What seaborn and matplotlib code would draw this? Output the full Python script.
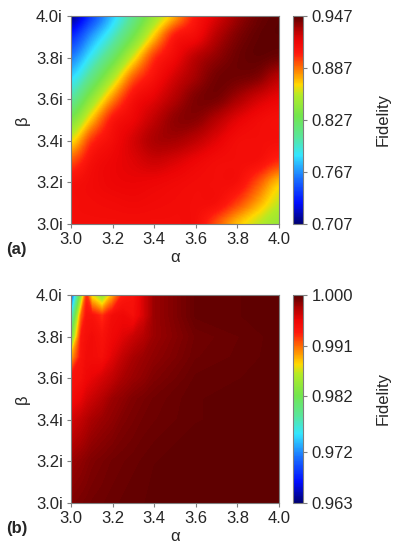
import numpy as np
import matplotlib
matplotlib.use("Agg")
import matplotlib.pyplot as plt
from matplotlib.colors import LinearSegmentedColormap
import seaborn as sns

# panel (a): fidelity read on a 0.1 grid, rows = beta 3.0 -> 4.0, cols = alpha 3.0 -> 4.0
alpha_a = [3.0, 3.1, 3.2, 3.3, 3.4, 3.5, 3.6, 3.7, 3.8, 3.9, 4.0]
beta_a = [3.0, 3.1, 3.2, 3.3, 3.4, 3.5, 3.6, 3.7, 3.8, 3.9, 4.0]
fid_a = [
    [0.912, 0.912, 0.912, 0.912, 0.912, 0.912, 0.911, 0.893, 0.873, 0.858, 0.846],
    [0.912, 0.913, 0.914, 0.915, 0.914, 0.913, 0.912, 0.910, 0.896, 0.877, 0.858],
    [0.910, 0.914, 0.917, 0.918, 0.917, 0.915, 0.913, 0.912, 0.910, 0.893, 0.872],
    [0.893, 0.911, 0.917, 0.921, 0.925, 0.922, 0.917, 0.913, 0.912, 0.910, 0.900],
    [0.865, 0.899, 0.913, 0.923, 0.932, 0.933, 0.928, 0.920, 0.913, 0.912, 0.911],
    [0.835, 0.873, 0.906, 0.917, 0.928, 0.937, 0.938, 0.930, 0.920, 0.914, 0.911],
    [0.807, 0.844, 0.882, 0.910, 0.920, 0.931, 0.940, 0.941, 0.933, 0.924, 0.918],
    [0.784, 0.815, 0.853, 0.891, 0.910, 0.924, 0.934, 0.942, 0.942, 0.939, 0.929],
    [0.762, 0.791, 0.823, 0.862, 0.898, 0.915, 0.929, 0.937, 0.943, 0.945, 0.943],
    [0.738, 0.769, 0.798, 0.832, 0.871, 0.905, 0.914, 0.930, 0.940, 0.945, 0.946],
    [0.712, 0.745, 0.779, 0.812, 0.846, 0.876, 0.906, 0.922, 0.935, 0.943, 0.946],
]
ticks_a = [0.707, 0.767, 0.827, 0.887, 0.947]

# panel (b): finer near the top-left corner where the structure is
alpha_b = [3.0, 3.05, 3.075, 3.1, 3.15, 3.2, 3.25, 3.3, 3.35, 3.4, 3.6, 4.0]
beta_b = [3.0, 3.2, 3.4, 3.5, 3.6, 3.7, 3.8, 3.9, 4.0]
fid_b = [
    [0.9989, 0.9991, 0.9992, 0.9993, 0.9994, 0.9995, 0.9996, 0.9997, 0.9997, 0.9998, 0.9998, 0.9998],
    [0.9982, 0.9985, 0.9987, 0.9989, 0.9991, 0.9993, 0.9994, 0.9995, 0.9996, 0.9997, 0.9998, 0.9998],
    [0.9963, 0.9970, 0.9974, 0.9978, 0.9982, 0.9985, 0.9989, 0.9991, 0.9993, 0.9994, 0.9997, 0.9998],
    [0.9948, 0.9956, 0.9963, 0.9967, 0.9974, 0.9982, 0.9985, 0.9989, 0.9991, 0.9993, 0.9997, 0.9998],
    [0.9941, 0.9945, 0.9952, 0.9956, 0.9963, 0.9970, 0.9978, 0.9982, 0.9985, 0.9989, 0.9996, 0.9998],
    [0.9889, 0.9941, 0.9948, 0.9948, 0.9945, 0.9959, 0.9970, 0.9978, 0.9982, 0.9985, 0.9994, 0.9998],
    [0.9815, 0.9937, 0.9945, 0.9948, 0.9941, 0.9952, 0.9959, 0.9967, 0.9974, 0.9982, 0.9993, 0.9998],
    [0.9752, 0.9911, 0.9941, 0.9941, 0.9926, 0.9948, 0.9952, 0.9945, 0.9963, 0.9982, 0.9996, 0.9998],
    [0.9686, 0.9845, 0.9926, 0.9871, 0.9834, 0.9889, 0.9933, 0.9941, 0.9963, 0.9982, 0.9996, 0.9998],
]
ticks_b = [0.963, 0.972, 0.982, 0.991, 1.000]

axis_ticks = [3.0, 3.2, 3.4, 3.6, 3.8, 4.0]

sns.set_style("ticks")
plt.rcParams["font.family"] = ["Liberation Sans", "DejaVu Sans"]
plt.rcParams["font.size"] = 12

# jet-like map with a darker top, as in the figure
cmap = LinearSegmentedColormap.from_list("fid", [
    (0.00, (0.0, 0.0, 0.45)),
    (0.10, (0.0, 0.05, 1.0)),
    (0.22, (0.1, 0.45, 1.0)),
    (0.33, (0.2, 0.9, 1.0)),
    (0.42, (0.35, 0.9, 0.6)),
    (0.52, (0.45, 0.9, 0.3)),
    (0.62, (0.7, 0.92, 0.15)),
    (0.67, (1.0, 0.85, 0.0)),
    (0.74, (1.0, 0.5, 0.0)),
    (0.82, (1.0, 0.1, 0.05)),
    (0.88, (0.93, 0.02, 0.02)),
    (0.94, (0.68, 0.0, 0.0)),
    (1.00, (0.35, 0.0, 0.0)),
])

fig = plt.figure(figsize=(3.99, 5.55), dpi=100)
ax_a = fig.add_axes([0.178, 0.5964, 0.521, 0.3748])
cax_a = fig.add_axes([0.734, 0.5964, 0.0263, 0.3748])
ax_b = fig.add_axes([0.178, 0.0937, 0.521, 0.3748])
cax_b = fig.add_axes([0.734, 0.0937, 0.0263, 0.3748])

# interpolate the data (not the colours) so the bands follow the colour map
half = 0.05
im_a = ax_a.imshow(np.array(fid_a), origin="lower", cmap=cmap,
                   vmin=ticks_a[0], vmax=ticks_a[-1],
                   interpolation="catrom", interpolation_stage="data",
                   extent=(alpha_a[0] - half, alpha_a[-1] + half, beta_a[0] - half, beta_a[-1] + half),
                   aspect="auto")

levels_b = np.linspace(ticks_b[0], ticks_b[-1], 256)
im_b = ax_b.contourf(alpha_b, beta_b, np.array(fid_b), levels=levels_b, cmap=cmap,
                     vmin=ticks_b[0], vmax=ticks_b[-1], antialiased=False)

grey = "#7f7f7f"
for ax, cax, im, ticks, tag in [(ax_a, cax_a, im_a, ticks_a, "(a)"), (ax_b, cax_b, im_b, ticks_b, "(b)")]:
    ax.set_xlim(3.0, 4.0)
    ax.set_ylim(3.0, 4.0)
    ax.set_xticks(axis_ticks)
    ax.set_xticklabels([f"{v:.1f}" for v in axis_ticks])
    ax.set_yticks(axis_ticks)
    ax.set_yticklabels([f"{v:.1f}i" for v in axis_ticks])
    ax.tick_params(direction="out", length=3, width=0.8, color=grey, pad=3)
    for s in ax.spines.values():
        s.set_color(grey)
        s.set_linewidth(0.8)
    ax.set_xlabel("α", labelpad=2)
    ax.set_ylabel("β", labelpad=4)
    ax.text(-0.31, -0.125, tag, transform=ax.transAxes, fontweight="bold",
            ha="left", va="center")

    cb = fig.colorbar(im, cax=cax, ticks=ticks)
    cb.ax.set_ylim(ticks[0], ticks[-1])
    cb.ax.set_yticklabels([f"{t:.3f}" for t in ticks])
    cb.ax.tick_params(direction="out", length=3, width=0.8, color=grey, pad=3)
    cb.outline.set_edgecolor(grey)
    cb.outline.set_linewidth(0.8)
    cb.set_label("Fidelity", labelpad=16)

fig.savefig("out.png", dpi=100)
